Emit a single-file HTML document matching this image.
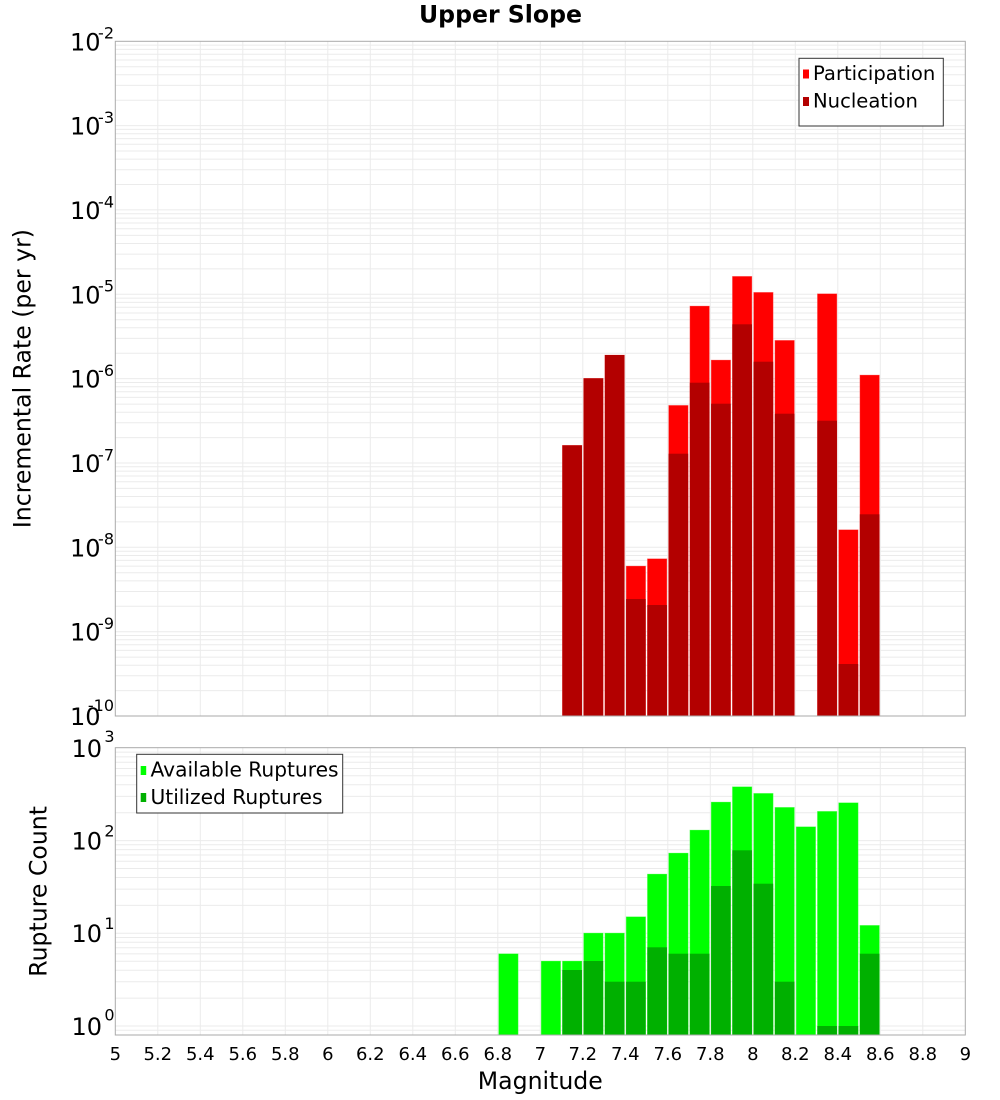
<!DOCTYPE html>
<html><head><meta charset="utf-8"><style>
html,body{margin:0;padding:0;background:#fff;}
svg{display:block;}
text{font-family:"DejaVu Sans","Liberation Sans",sans-serif;fill:#000;}
</style></head><body>
<svg width="1000" height="1100" viewBox="0 0 1000 1100" xmlns="http://www.w3.org/2000/svg">
<rect x="0" y="0" width="1000" height="1100" fill="#fff"/>
<text x="500.5" y="22.5" font-size="23.6" font-weight="bold" text-anchor="middle">Upper Slope</text>

<!-- TOP PLOT grid -->
<g stroke="#ebebeb" stroke-width="1" fill="none">
<path d="M115.3 45.1H965.3M115.3 49.4H965.3M115.3 54.3H965.3M115.3 60H965.3M115.3 66.7H965.3M115.3 74.8H965.3M115.3 85.4H965.3M115.3 100.2H965.3M115.3 125.6H965.3
M115.3 129.4H965.3M115.3 133.7H965.3M115.3 138.6H965.3M115.3 144.3H965.3M115.3 151H965.3M115.3 159.1H965.3M115.3 169.7H965.3M115.3 184.5H965.3M115.3 209.9H965.3
M115.3 213.8H965.3M115.3 218.1H965.3M115.3 223H965.3M115.3 228.7H965.3M115.3 235.4H965.3M115.3 243.5H965.3M115.3 254.1H965.3M115.3 268.9H965.3M115.3 294.3H965.3
M115.3 298.1H965.3M115.3 302.4H965.3M115.3 307.3H965.3M115.3 313H965.3M115.3 319.7H965.3M115.3 327.8H965.3M115.3 338.4H965.3M115.3 353.2H965.3M115.3 378.6H965.3
M115.3 382.5H965.3M115.3 386.8H965.3M115.3 391.7H965.3M115.3 397.4H965.3M115.3 404.1H965.3M115.3 412.2H965.3M115.3 422.8H965.3M115.3 437.6H965.3M115.3 463H965.3
M115.3 466.8H965.3M115.3 471.1H965.3M115.3 476H965.3M115.3 481.7H965.3M115.3 488.4H965.3M115.3 496.5H965.3M115.3 507.1H965.3M115.3 521.9H965.3M115.3 547.3H965.3
M115.3 551.2H965.3M115.3 555.5H965.3M115.3 560.4H965.3M115.3 566.1H965.3M115.3 572.8H965.3M115.3 580.9H965.3M115.3 591.5H965.3M115.3 606.3H965.3M115.3 631.7H965.3
M115.3 635.5H965.3M115.3 639.8H965.3M115.3 644.7H965.3M115.3 650.4H965.3M115.3 657.1H965.3M115.3 665.2H965.3M115.3 675.8H965.3M115.3 690.6H965.3"/>
<path d="M157.8 41.3V716M200.3 41.3V716M242.8 41.3V716M285.3 41.3V716M327.8 41.3V716M370.3 41.3V716M412.8 41.3V716M455.3 41.3V716M497.8 41.3V716M540.3 41.3V716M582.8 41.3V716M625.3 41.3V716M667.8 41.3V716M710.3 41.3V716M752.8 41.3V716M795.3 41.3V716M837.8 41.3V716M880.3 41.3V716M922.8 41.3V716"/>
</g>

<!-- participation -->
<g fill="#ff0000" stroke="#ff8080" stroke-width="0.6" stroke-opacity="0.6">
<rect x="562.35" y="445.3" width="19.6" height="270.7"/>
<rect x="583.6" y="378.3" width="19.6" height="337.7"/>
<rect x="604.85" y="355" width="19.6" height="361"/>
<rect x="626.1" y="566" width="19.6" height="150"/>
<rect x="647.35" y="558.7" width="19.6" height="157.3"/>
<rect x="668.6" y="405.3" width="19.6" height="310.7"/>
<rect x="689.85" y="306" width="19.6" height="410"/>
<rect x="711.1" y="360" width="19.6" height="356"/>
<rect x="732.35" y="276.3" width="19.6" height="439.7"/>
<rect x="753.6" y="292.3" width="19.6" height="423.7"/>
<rect x="774.85" y="340.3" width="19.6" height="375.7"/>
<rect x="817.35" y="293.7" width="19.6" height="422.3"/>
<rect x="838.6" y="529.7" width="19.6" height="186.3"/>
<rect x="859.85" y="375" width="19.6" height="341"/>
</g>
<!-- nucleation -->
<g fill="#b30000">
<rect x="562.35" y="445.3" width="19.6" height="270.7"/>
<rect x="583.6" y="378.3" width="19.6" height="337.7"/>
<rect x="604.85" y="355" width="19.6" height="361"/>
<rect x="626.1" y="599" width="19.6" height="117"/>
<rect x="647.35" y="605" width="19.6" height="111"/>
<rect x="668.6" y="453.7" width="19.6" height="262.3"/>
<rect x="689.85" y="382.7" width="19.6" height="333.3"/>
<rect x="711.1" y="403.7" width="19.6" height="312.3"/>
<rect x="732.35" y="324.3" width="19.6" height="391.7"/>
<rect x="753.6" y="361.7" width="19.6" height="354.3"/>
<rect x="774.85" y="413.7" width="19.6" height="302.3"/>
<rect x="817.35" y="420.7" width="19.6" height="295.3"/>
<rect x="838.6" y="664" width="19.6" height="52"/>
<rect x="859.85" y="514.3" width="19.6" height="201.7"/>
</g>
<rect x="115.3" y="41.3" width="850" height="674.7" fill="none" stroke="#aaaaaa" stroke-width="1"/>

<!-- top legend -->
<rect x="799" y="58.3" width="144.3" height="67.7" fill="#fff" stroke="#333" stroke-width="1"/>
<rect x="803" y="69.5" width="6" height="9" fill="#ff0000"/>
<rect x="803" y="97" width="6" height="9" fill="#b30000"/>
<text x="813" y="80" font-size="19.6">Participation</text>
<text x="813" y="107.7" font-size="19.6">Nucleation</text>

<!-- top y ticks -->
<g font-size="24" text-anchor="end">
<text x="100.5" y="50.3">10</text>
<text x="100.5" y="134.6">10</text>
<text x="100.5" y="218.9">10</text>
<text x="100.5" y="303.3">10</text>
<text x="100.5" y="387.6">10</text>
<text x="100.5" y="472">10</text>
<text x="100.5" y="556.3">10</text>
<text x="100.5" y="640.7">10</text>
<text x="100.5" y="725">10</text>
</g>
<g font-size="16" text-anchor="end">
<text x="114" y="38.7">-2</text>
<text x="114" y="123">-3</text>
<text x="114" y="207.3">-4</text>
<text x="114" y="291.7">-5</text>
<text x="114" y="376">-6</text>
<text x="114" y="460.4">-7</text>
<text x="114" y="544.7">-8</text>
<text x="114" y="629.1">-9</text>
<text x="114" y="711">-10</text>
</g>
<text transform="translate(30.5,378.6) rotate(-90)" font-size="23.6" text-anchor="middle">Incremental Rate (per yr)</text>

<!-- BOTTOM PLOT grid -->
<g stroke="#ebebeb" stroke-width="1" fill="none">
<path d="M115.3 752.1H965.3M115.3 756.9H965.3M115.3 762.3H965.3M115.3 768.5H965.3M115.3 775.8H965.3M115.3 784.8H965.3M115.3 796.4H965.3M115.3 812.7H965.3M115.3 840.6H965.3
M115.3 844.8H965.3M115.3 849.6H965.3M115.3 855H965.3M115.3 861.2H965.3M115.3 868.5H965.3M115.3 877.5H965.3M115.3 889.1H965.3M115.3 905.4H965.3M115.3 933.3H965.3
M115.3 937.5H965.3M115.3 942.3H965.3M115.3 947.7H965.3M115.3 953.9H965.3M115.3 961.2H965.3M115.3 970.2H965.3M115.3 981.8H965.3M115.3 998.1H965.3M115.3 1026H965.3M115.3 1030.2H965.3"/>
<path d="M157.8 747.7V1035M200.3 747.7V1035M242.8 747.7V1035M285.3 747.7V1035M327.8 747.7V1035M370.3 747.7V1035M412.8 747.7V1035M455.3 747.7V1035M497.8 747.7V1035M540.3 747.7V1035M582.8 747.7V1035M625.3 747.7V1035M667.8 747.7V1035M710.3 747.7V1035M752.8 747.7V1035M795.3 747.7V1035M837.8 747.7V1035M880.3 747.7V1035M922.8 747.7V1035"/>
</g>
<!-- available -->
<g fill="#00ff00" stroke="#80ff80" stroke-width="0.6" stroke-opacity="0.6">
<rect x="498.6" y="953.7" width="19.6" height="81.3"/>
<rect x="541.1" y="961" width="19.6" height="74"/>
<rect x="562.35" y="961" width="19.6" height="74"/>
<rect x="583.6" y="933" width="19.6" height="102"/>
<rect x="604.85" y="933" width="19.6" height="102"/>
<rect x="626.1" y="916.7" width="19.6" height="118.3"/>
<rect x="647.35" y="874" width="19.6" height="161"/>
<rect x="668.6" y="853" width="19.6" height="182"/>
<rect x="689.85" y="830" width="19.6" height="205"/>
<rect x="711.1" y="802" width="19.6" height="233"/>
<rect x="732.35" y="786.7" width="19.6" height="248.3"/>
<rect x="753.6" y="793.3" width="19.6" height="241.7"/>
<rect x="774.85" y="807.3" width="19.6" height="227.7"/>
<rect x="796.1" y="826.7" width="19.6" height="208.3"/>
<rect x="817.35" y="811.3" width="19.6" height="223.7"/>
<rect x="838.6" y="802.7" width="19.6" height="232.3"/>
<rect x="859.85" y="925.3" width="19.6" height="109.7"/>
</g>
<!-- utilized -->
<g fill="#00b000">
<rect x="562.35" y="970" width="19.6" height="65"/>
<rect x="583.6" y="961" width="19.6" height="74"/>
<rect x="604.85" y="981.7" width="19.6" height="53.3"/>
<rect x="626.1" y="981.7" width="19.6" height="53.3"/>
<rect x="647.35" y="947.3" width="19.6" height="87.7"/>
<rect x="668.6" y="953.7" width="19.6" height="81.3"/>
<rect x="689.85" y="953.7" width="19.6" height="81.3"/>
<rect x="711.1" y="886" width="19.6" height="149"/>
<rect x="732.35" y="850.3" width="19.6" height="184.7"/>
<rect x="753.6" y="883.7" width="19.6" height="151.3"/>
<rect x="774.85" y="981.7" width="19.6" height="53.3"/>
<rect x="817.35" y="1026" width="19.6" height="9"/>
<rect x="838.6" y="1026" width="19.6" height="9"/>
<rect x="859.85" y="953.7" width="19.6" height="81.3"/>
</g>
<rect x="115.3" y="747.7" width="850" height="287.3" fill="none" stroke="#aaaaaa" stroke-width="1"/>

<!-- bottom legend -->
<rect x="136.7" y="754.3" width="206" height="58.7" fill="#fff" stroke="#333" stroke-width="1"/>
<rect x="140.7" y="766" width="5.5" height="9" fill="#00ff00"/>
<rect x="140.7" y="793" width="5.5" height="9" fill="#00b000"/>
<text x="150.5" y="776.7" font-size="20.2">Available Ruptures</text>
<text x="150.5" y="804" font-size="20.2">Utilized Ruptures</text>

<!-- bottom y ticks -->
<g font-size="24" text-anchor="end">
<text x="102" y="757">10</text>
<text x="102" y="849.3">10</text>
<text x="102" y="942">10</text>
<text x="102" y="1035">10</text>
</g>
<g font-size="16" text-anchor="end">
<text x="114.5" y="742">3</text>
<text x="114.5" y="836.5">2</text>
<text x="114.5" y="929">1</text>
<text x="114.5" y="1020.7">0</text>
</g>
<text transform="translate(46.5,891.4) rotate(-90)" font-size="23.6" text-anchor="middle">Rupture Count</text>

<!-- x ticks -->
<g font-size="18" text-anchor="middle">
<text x="115.3" y="1060">5</text>
<text x="157.8" y="1060">5.2</text>
<text x="200.3" y="1060">5.4</text>
<text x="242.8" y="1060">5.6</text>
<text x="285.3" y="1060">5.8</text>
<text x="327.8" y="1060">6</text>
<text x="370.3" y="1060">6.2</text>
<text x="412.8" y="1060">6.4</text>
<text x="455.3" y="1060">6.6</text>
<text x="497.8" y="1060">6.8</text>
<text x="540.3" y="1060">7</text>
<text x="582.8" y="1060">7.2</text>
<text x="625.3" y="1060">7.4</text>
<text x="667.8" y="1060">7.6</text>
<text x="710.3" y="1060">7.8</text>
<text x="752.8" y="1060">8</text>
<text x="795.3" y="1060">8.2</text>
<text x="837.8" y="1060">8.4</text>
<text x="880.3" y="1060">8.6</text>
<text x="922.8" y="1060">8.8</text>
<text x="965.3" y="1060">9</text>
</g>
<text x="540.3" y="1089" font-size="23.6" text-anchor="middle">Magnitude</text>
</svg>
</body></html>
